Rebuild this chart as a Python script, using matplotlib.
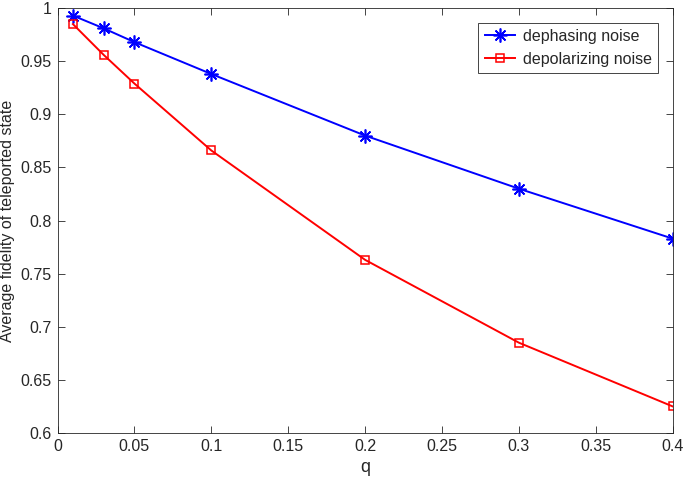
import matplotlib
matplotlib.use('Agg')
import matplotlib.pyplot as plt

# ─── data ───────────────────────────────────────────────────────────
q = [0.01, 0.03, 0.05, 0.1, 0.2, 0.3, 0.4]
dephasing = [0.993, 0.981, 0.968, 0.938, 0.880, 0.830, 0.783]
depolarizing = [0.985, 0.956, 0.929, 0.866, 0.763, 0.685, 0.625]
xticks = [0, 0.05, 0.1, 0.15, 0.2, 0.25, 0.3, 0.35, 0.4]
yticks = [0.6, 0.65, 0.7, 0.75, 0.8, 0.85, 0.9, 0.95, 1]

plt.rcParams['font.family'] = ['Liberation Sans', 'DejaVu Sans']
axc = '#262626'

fig = plt.figure(figsize=(6.85, 4.8), dpi=100)
ax = fig.add_axes([0.084, 0.098, 0.898, 0.885])

# MATLAB-style asterisk: 8 spokes
ax.plot(q, dephasing, color='#0000ff', lw=1.4, marker=(8, 2, 0), ms=10,
        mew=1.2, label='dephasing noise')
ax.plot(q, depolarizing, color='#ff0000', lw=1.4, marker='s', ms=5.5,
        mfc='none', mew=1.1, label='depolarizing noise')

ax.set_xlim(0, 0.4)
ax.set_ylim(0.6, 1)
ax.set_xticks(xticks)
ax.set_xticklabels(['0', '0.05', '0.1', '0.15', '0.2', '0.25', '0.3', '0.35', '0.4'])
ax.set_yticks(yticks)
ax.set_yticklabels(['0.6', '0.65', '0.7', '0.75', '0.8', '0.85', '0.9', '0.95', '1'])
ax.tick_params(direction='in', top=True, right=True, length=5, width=0.6,
               colors=axc, labelsize=11.5, pad=4)
for s in ax.spines.values():
    s.set_color(axc)
    s.set_linewidth(0.6)
ax.set_xlabel('q', fontsize=13, color=axc, labelpad=4)
ax.set_ylabel('Average fidelity of teleported state', fontsize=11.5, color=axc, labelpad=4)

leg = ax.legend(loc='upper right', fontsize=11.5, frameon=True, fancybox=False,
                edgecolor=axc, framealpha=1, borderaxespad=0.9,
                handlelength=1.9, handletextpad=0.5, labelcolor=axc)
leg.get_frame().set_linewidth(0.6)

fig.savefig('out.png', dpi=100)
